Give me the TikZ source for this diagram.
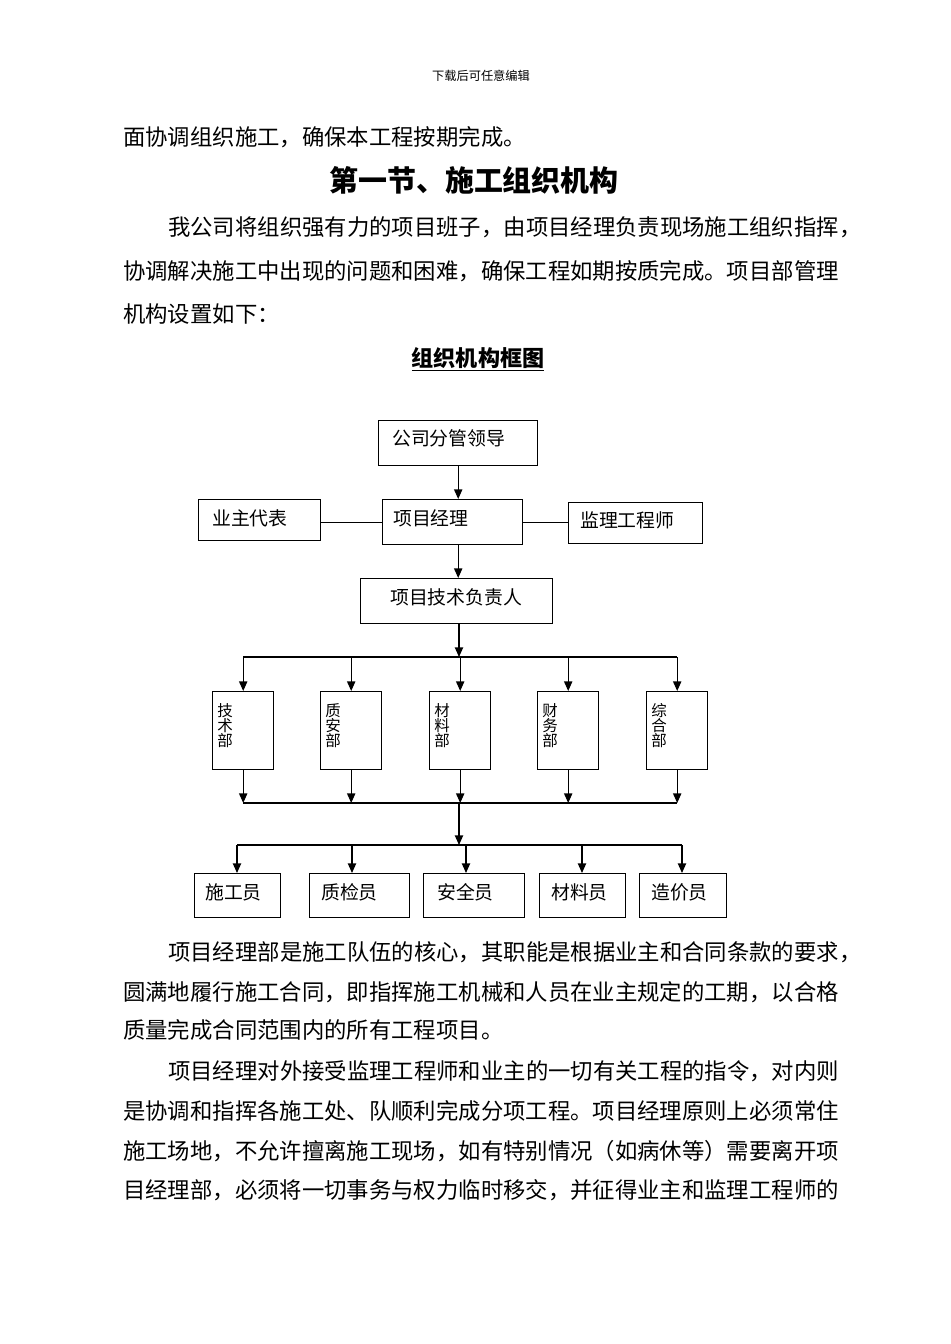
\documentclass[tikz,border=0pt]{standalone}
\usepackage{fontspec}
\setmainfont{Noto Sans CJK SC}
\usetikzlibrary{arrows.meta}
\XeTeXlinebreaklocale "zh"
\XeTeXlinebreakskip=0pt plus 1pt minus 1pt
\newlength{\pxu}
\setlength{\pxu}{0.025cm}
\newcommand{\deptname}[3]{\vbox{\baselineskip=10.6pt\lineskiplimit=-20pt\hbox{#1}\hbox{#2}\hbox{#3}}}

\begin{document}
\begin{tikzpicture}[x=0.025cm, y=-0.025cm,
    txt/.style={inner sep=0pt, anchor=west, font=\fontsize{15.9pt}{20pt}\selectfont},
    sz/.style 2 args={minimum width=#1*0.025cm, minimum height=#2*0.025cm},
    box/.style={draw, line width=1pt, anchor=north west, inner sep=0pt},
    lbl/.style={inner sep=0pt, anchor=west, font=\fontsize{13.4pt}{16pt}\selectfont},
    arr/.style={line width=1pt, -{Triangle[length=6.8pt,width=5.8pt]}},
    ln/.style={line width=1pt}]
    \useasboundingbox[fill=white] (0,0) rectangle (950,1344);
    \node[inner sep=0pt, font=\fontsize{8.7pt}{10pt}\selectfont] (hdr) at (481,76) {下载后可任意编辑};

    \node[txt] (p1) at (123,137) {面协调组织施工，确保本工程按期完成。};
    \node[txt, anchor=center, font=\fontsize{20.6pt}{24pt}\selectfont\bfseries] (sec) at (474,180) {第一节、施工组织机构};
    \node[txt] (p2) at (168,227) {\makebox[682\pxu][s]{我公司将组织强有力的项目班子，由项目经理负责现场施工组织指挥，}};
    \node[txt] (p3) at (123,271) {\makebox[717\pxu][s]{协调解决施工中出现的问题和困难，确保工程如期按质完成。项目部管理}};
    \node[txt] (p4) at (123,314) {机构设置如下：};
    \node[txt, anchor=center, font=\fontsize{15.7pt}{20pt}\selectfont\bfseries] (cap) at (478,359) {\underline{组织机构框图}};

    \node[box, sz={159}{45}] (lead) at (378,420) {};
    \node[box, sz={122}{41}] (owner) at (198,499) {};
    \node[box, sz={140}{45}] (pm) at (382,499) {};
    \node[box, sz={134}{41}] (sup) at (568,502) {};
    \node[box, sz={192}{45}] (techlead) at (360,578) {};
    \node[lbl] (leadt) at (392,438) {公司分管领导};
    \node[lbl] (ownert) at (212,518) {业主代表};
    \node[lbl] (pmt) at (393,518) {项目经理};
    \node[lbl] (supt) at (580,520) {监理工程师};
    \node[lbl] (techt) at (390,597) {项目技术负责人};

    \draw[arr] (lead.south) -- (lead.south |- pm.north);
    \draw[ln] (pm.west) -- (pm.west -| owner.east);
    \draw[ln] (pm.east) -- (pm.east -| sup.west);
    \draw[arr] (pm.south -| lead.south) -- (techlead.north -| lead.south);

    \coordinate (bus1) at (459,657);
    \coordinate (bus2) at (459,803);
    \coordinate (bus3) at (459,845);
    \draw[arr] (techlead.south -| bus1) -- (bus1);

    \foreach \i/\x/\a/\b/\c in {1/212/技/术/部, 2/320/质/安/部, 3/429/材/料/部, 4/537/财/务/部, 5/646/综/合/部}{
        \node[box, sz={61}{78}] (d\i) at (\x,691) {};
        \node[inner sep=0pt, anchor=north, font=\fontsize{11pt}{10pt}\selectfont] (dt\i) at (\x+13,703.5) {\deptname{\a}{\b}{\c}};
        \draw[arr] (d\i.north |- bus1) -- (d\i.north);
        \draw[arr] (d\i.south) -- (d\i.south |- bus2);
    }
    \draw[ln] (d1.north |- bus1) -- (d5.north |- bus1);
    \draw[ln] (d1.south |- bus2) -- (d5.south |- bus2);
    \draw[arr] (bus2) -- (bus3);

    \foreach \i/\x/\w/\tx/\ax/\t in {1/194/86/205/237/施工员, 2/309/100/321/352/质检员, 3/423/101/437/466/安全员, 4/539/86/551/582/材料员, 5/639/87/651/682/造价员}{
        \node[box, sz={\w}{44}] (s\i) at (\x,873) {};
        \node[lbl] (st\i) at (\tx,892) {\t};
        \coordinate (t\i) at (\ax,845);
        \draw[arr] (t\i) -- (t\i |- s\i.north);
    }
    \draw[ln] (t1) -- (t5);

    \node[txt] (p5) at (168,952) {\makebox[682\pxu][s]{项目经理部是施工队伍的核心，其职能是根据业主和合同条款的要求，}};
    \node[txt] (p6) at (123,992) {\makebox[717\pxu][s]{圆满地履行施工合同，即指挥施工机械和人员在业主规定的工期，以合格}};
    \node[txt] (p7) at (123,1030) {质量完成合同范围内的所有工程项目。};
    \node[txt] (p8) at (168,1071) {\makebox[672\pxu][s]{项目经理对外接受监理工程师和业主的一切有关工程的指令，对内则}};
    \node[txt] (p9) at (123,1111) {\makebox[717\pxu][s]{是协调和指挥各施工处、队顺利完成分项工程。项目经理原则上必须常住}};
    \node[txt] (p10) at (123,1151) {\makebox[717\pxu][s]{施工场地，不允许擅离施工现场，如有特别情况（如病休等）需要离开项}};
    \node[txt] (p11) at (123,1190) {\makebox[717\pxu][s]{目经理部，必须将一切事务与权力临时移交，并征得业主和监理工程师的}};
\end{tikzpicture}
\end{document}
